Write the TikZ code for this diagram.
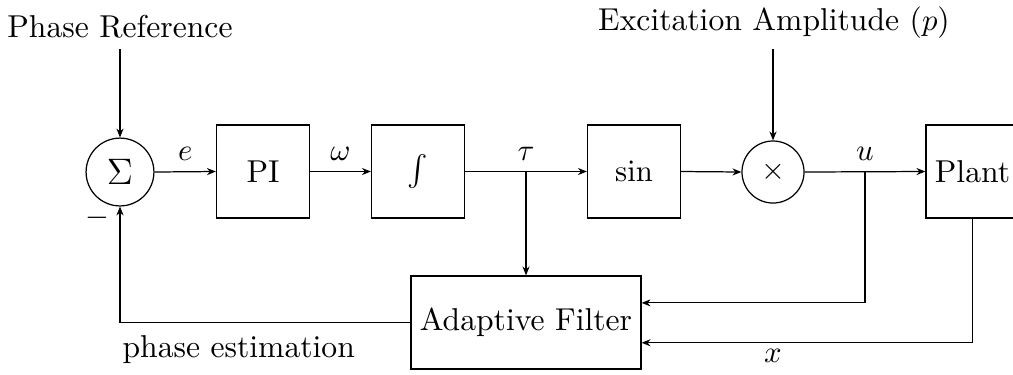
\documentclass[tikz,border=0pt]{standalone}
\usetikzlibrary{arrows.meta}
\begin{document}
\begin{tikzpicture}[x=0.3257pt,y=-0.3257pt,
  every node/.style={font=\fontsize{10.3pt}{12.4pt}\selectfont},
  blk/.style={draw, minimum width=30.3pt, minimum height=30.3pt, inner sep=0pt},
  sumnode/.style={draw, circle, minimum size=22.1pt, inner sep=0pt},
  mulnode/.style={draw, circle, minimum size=20.2pt, inner sep=0pt},
  conn/.style={-{Stealth[length=2.9pt,width=2.3pt]}},
  sig/.style={above}]
\clip (0,0) rectangle (1013,374);
\node[sumnode] (sum) at (120,172) {\large$\Sigma$};
\node[blk] (pi) at (263,171.5) {PI};
\node[blk] (int) at (418,171.5) {$\int$};
\node[blk] (sin) at (634,171.5) {$\sin$};
\node[mulnode] (mul) at (773,172) {$\times$};
\node[blk] (plant) at (972.5,171.5) {Plant};
\node[blk, minimum width=74.9pt] (af) at (526,322.5) {Adaptive Filter};
\node[anchor=south] (pref) at (120,49) {Phase Reference};
\node[anchor=south] (exc) at (774,49) {Excitation Amplitude ($p$)};
\coordinate (tau) at (526,171.5);
\coordinate (ub) at (865,171.5);

\draw[conn] (pref.south) -- (sum.north);
\draw[conn] (exc.south -| mul.north) -- (mul.north);
\draw[conn] (sum.east) -- node[sig] {$e$} (pi.west);
\draw[conn] (pi.east) -- node[sig] {$\omega$} (int.west);
\draw[conn] (int.east) -- (sin.west);
\node[sig] (taulbl) at (tau) {$\tau$};
\draw[conn] (sin.east) -- (mul.west);
\draw[conn] (mul.east) -- (plant.west);
\node[sig] (ulbl) at (ub) {$u$};
\draw[conn] (tau) -- (af.north);
\draw[conn] (ub) |- ([yshift=6.4pt]af.east);
\draw[conn] (plant.south) |- ([yshift=-6.6pt]af.east);
\draw[conn] (af.west) -| (sum.south);
\node (minus) at (97,218) {$-$};
\node[anchor=base west, inner sep=0pt] (pest) at (122,357) {phase estimation};
\node (xlbl) at (773,356) {$x$};
\end{tikzpicture}
\end{document}
